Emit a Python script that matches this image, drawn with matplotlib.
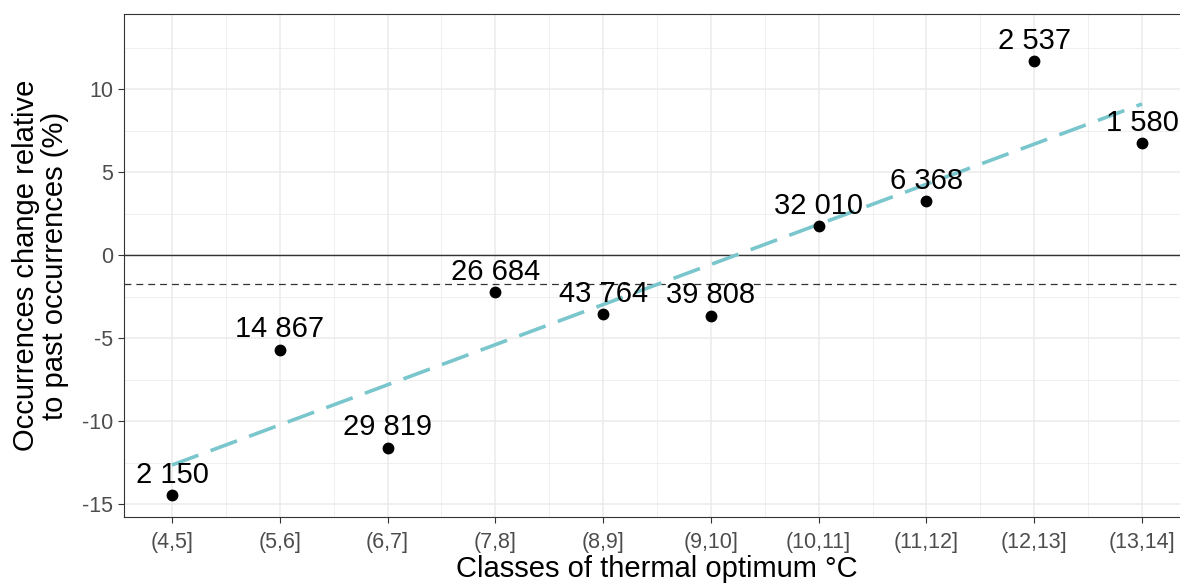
import numpy as np
import matplotlib
matplotlib.use("Agg")
import matplotlib.pyplot as plt
from matplotlib.ticker import MultipleLocator, FixedLocator

plt.rcParams['font.family'] = ['Liberation Sans', 'DejaVu Sans']
plt.rcParams['axes.unicode_minus'] = False

categories = ["(4,5]", "(5,6]", "(6,7]", "(7,8]", "(8,9]", "(9,10]",
              "(10,11]", "(11,12]", "(12,13]", "(13,14]"]
change_pct = [-14.45, -5.7, -11.6, -2.25, -3.55, -3.65, 1.75, 3.25, 11.7, 6.75]
occurrences = [2150, 14867, 29819, 26684, 43764, 39808, 32010, 6368, 2537, 1580]
mean_line = -1.75

x = np.arange(1, len(categories) + 1)
y = np.array(change_pct)

fig = plt.figure(figsize=(11.8, 5.85), dpi=100)
ax = fig.add_axes([124/1180, 1-517/585, (1190-124)/1180, (517-14)/585])

ax.set_xlim(0.555, 10.445)
ax.set_ylim(-15.78, 14.52)

# grid
ax.xaxis.set_major_locator(FixedLocator(x))
ax.xaxis.set_minor_locator(FixedLocator(x[:-1] + 0.5))
ax.yaxis.set_major_locator(MultipleLocator(5))
ax.yaxis.set_minor_locator(MultipleLocator(2.5))
ax.grid(which='major', color='#EBEBEB', linewidth=1.1, zorder=0)
ax.grid(which='minor', color='#EBEBEB', linewidth=0.55, zorder=0)
ax.set_axisbelow(True)

for s in ax.spines.values():
    s.set_color('#333333')
    s.set_linewidth(0.8)
ax.spines['right'].set_visible(False)

ax.axhline(0, color='#333333', linewidth=1.0, zorder=2)
ax.axhline(mean_line, color='#333333', linewidth=0.9, linestyle=(0, (5.5, 4)), zorder=2)

# regression
slope, intercept = np.polyfit(x, y, 1)
ax.plot([x[0], x[-1]], [intercept + slope * x[0], intercept + slope * x[-1]],
        color='#7AC6CD', linewidth=2.6, linestyle=(0, (7.8, 3.6)), zorder=3)

ax.plot(x, y, 'o', color='black', markersize=7.5, zorder=4)

for xi, yi, n in zip(x, y, occurrences):
    lab = f"{n:,}".replace(",", " ")
    ax.annotate(lab, (xi, yi), xytext=(0, 8.8), textcoords='offset points',
                ha='center', va='baseline', fontsize=21, color='black', zorder=5)

ax.set_xticks(x)
ax.set_xticklabels(categories)
ax.tick_params(axis='both', which='major', colors='#333333', length=4, width=0.8,
               labelcolor='#4D4D4D', labelsize=15.5)
ax.tick_params(axis='both', which='minor', length=0)
ax.tick_params(axis='x', pad=7)
ax.tick_params(axis='y', pad=4)

ax.set_xlabel("Classes of thermal optimum °C", fontsize=21, labelpad=1)
ax.set_ylabel("Occurrences change relative\nto past occurrences (%)", fontsize=21,
              labelpad=9, linespacing=1.05)

fig.savefig("out.png", dpi=100)
